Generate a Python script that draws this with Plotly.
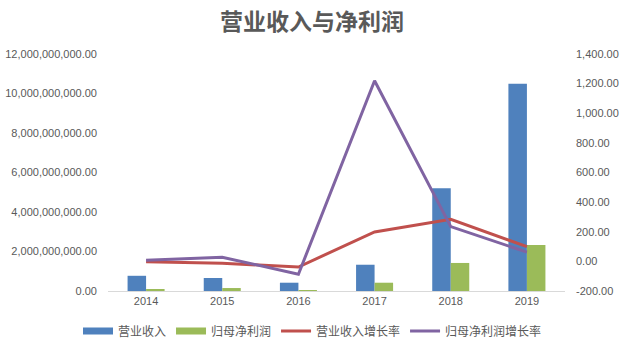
import plotly.graph_objects as go

# 年度经营数据
years = ["2014", "2015", "2016", "2017", "2018", "2019"]
revenue = [0.77e9, 0.66e9, 0.42e9, 1.33e9, 5.20e9, 10.50e9]          # 营业收入
net_profit = [0.10e9, 0.15e9, 0.02e9, 0.42e9, 1.42e9, 2.33e9]        # 归母净利润
revenue_growth = [-2, -13, -38, 199, 284, 99]                         # 营业收入增长率
profit_growth = [7, 28, -87, 1219, 235, 62]                           # 归母净利润增长率

left_ticks = [0, 2e9, 4e9, 6e9, 8e9, 10e9, 12e9]
right_ticks = [-200, 0, 200, 400, 600, 800, 1000, 1200, 1400]
right_tick_text = ["-200.00", "0.00", "200.00", "400.00", "600.00",
                   "800.00", "1,000.00", "1,200.00", "1,400.00"]

FONT = "Liberation Sans, Noto Sans CJK SC, sans-serif"
GREY = "#595959"
BLUE, GREEN, RED, PURPLE = "#4F81BD", "#9BBB59", "#C0504D", "#8064A2"

fig = go.Figure()
fig.add_trace(go.Bar(x=years, y=revenue, name="营业收入", showlegend=False,
                     legendgroup="rev", marker=dict(color=BLUE, line=dict(width=0))))
fig.add_trace(go.Bar(x=years, y=net_profit, name="归母净利润", showlegend=False,
                     legendgroup="np", marker=dict(color=GREEN, line=dict(width=0))))

# flat, wide legend keys for the bar series
fig.add_trace(go.Scatter(x=[None], y=[None], name="营业收入", mode="lines",
                         legendgroup="rev", line=dict(color=BLUE, width=7)))
fig.add_trace(go.Scatter(x=[None], y=[None], name="归母净利润", mode="lines",
                         legendgroup="np", line=dict(color=GREEN, width=7)))

fig.add_trace(go.Scatter(x=years, y=revenue_growth, name="营业收入增长率",
                         yaxis="y2", mode="lines",
                         line=dict(color=RED, width=3)))
fig.add_trace(go.Scatter(x=years, y=profit_growth, name="归母净利润增长率",
                         yaxis="y2", mode="lines",
                         line=dict(color=PURPLE, width=3)))

fig.update_layout(
    width=624, height=347,
    margin=dict(l=108, r=59, t=54, b=56, autoexpand=False),
    paper_bgcolor="white", plot_bgcolor="white",
    font=dict(family=FONT, size=11, color=GREY),
    title=dict(text="<b>营业收入与净利润</b>", x=0.5, xanchor="center",
               y=1 - 22 / 347, yanchor="middle",
               font=dict(family="Noto Sans CJK SC", size=23, color=GREY)),
    barmode="group", bargap=0.514, bargroupgap=0,
    xaxis=dict(type="category", showgrid=False, showline=True,
               linecolor="#D9D9D9", linewidth=1, ticks="",
               tickfont=dict(size=11, color=GREY)),
    yaxis=dict(range=[0, 12e9], tickvals=left_ticks, tickformat=",.2f",
               showgrid=False, zeroline=False, showline=False,
               ticks="", ticklabelstandoff=10,
               tickfont=dict(size=11, color=GREY)),
    yaxis2=dict(range=[-200, 1400], overlaying="y", side="right",
                tickvals=right_ticks, ticktext=right_tick_text,
                showgrid=False, zeroline=False, showline=False,
                ticks="", ticklabelstandoff=10,
                tickfont=dict(size=11, color=GREY)),
    legend=dict(orientation="h", x=(78 - 108) / 457, xanchor="left",
                y=-40 / 237, yanchor="middle", traceorder="normal",
                font=dict(size=12, color=GREY), itemwidth=30,
                bgcolor="rgba(0,0,0,0)"),
    showlegend=True,
)

fig.write_html("out.html")
